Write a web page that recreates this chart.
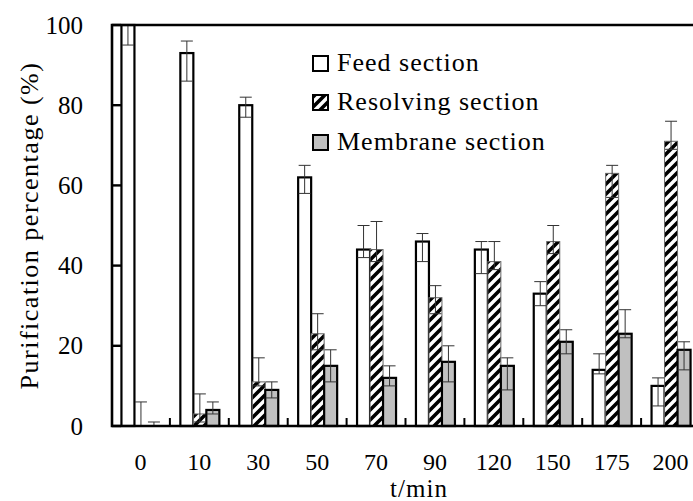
<!DOCTYPE html>
<html>
<head>
<meta charset="utf-8">
<script src="https://cdn.jsdelivr.net/npm/d3@7"></script>
<style>
  html, body { margin: 0; padding: 0; background: #fff; overflow: hidden; }
  svg { display: block; font-family: "Liberation Serif", "DejaVu Serif", serif; }
</style>
</head>
<body>
<div id="container"></div>
<script>
const categories = ["0", "10", "30", "50", "70", "90", "120", "150", "175", "200"];
const feed = [100, 93, 80, 62, 44, 46, 44, 33, 14, 10];
const feedUp = [0, 3, 2, 3, 6, 2, 2, 3, 4, 2];
const feedDown = [5, 7, 3, 4, 2, 5, 6, 3, 1, 5];
const resolving = [0, 3, 11, 23, 44, 32, 41, 46, 63, 71];
const resolvingUp = [6, 5, 6, 5, 7, 3, 5, 4, 2, 5];
const resolvingDown = [0, 2, 1, 4, 3, 4, 2, 3, 6, 2];
const membrane = [0, 4, 9, 15, 12, 16, 15, 21, 23, 19];
const membraneUp = [1, 2, 2, 4, 3, 4, 2, 3, 6, 2];
const membraneDown = [0, 1, 2, 4, 2, 5, 6, 3, 1, 5];
const yTicks = [0, 20, 40, 60, 80, 100];
const seriesNames = ["Feed section", "Resolving section", "Membrane section"];

main();

function main() {
  const width = 693;
  const height = 501;
  const plot = { left: 111, right: 700, top: 25, bottom: 426 };

  const svg = d3
    .select("#container")
    .append("svg")
    .attr("width", width)
    .attr("height", height);

  const defs = svg.append("defs");
  const hatch = defs
    .append("pattern")
    .attr("id", "hatch")
    .attr("patternUnits", "userSpaceOnUse")
    .attr("width", 10)
    .attr("height", 10);
  hatch.append("rect").attr("width", 10).attr("height", 10).attr("fill", "#fff");
  hatch
    .append("path")
    .attr("d", "M0,10 L10,0 M-5,5 L5,-5 M5,15 L15,5")
    .attr("stroke", "#000")
    .attr("stroke-width", 3.6);

  const scaleX = d3
    .scaleBand()
    .domain(categories)
    .range([plot.left, plot.right]);
  const scaleY = d3
    .scaleLinear()
    .domain([0, 100])
    .range([plot.bottom, plot.top]);

  const barW = 13;
  const groupOffset = (scaleX.bandwidth() - 3 * barW) / 2 + 0.5;

  const series = [
    { values: feed, up: feedUp, down: feedDown, fill: "#fff", stroke: "#000", sw: 2.2 },
    { values: resolving, up: resolvingUp, down: resolvingDown, fill: "url(#hatch)", stroke: "#666", sw: 1 },
    { values: membrane, up: membraneUp, down: membraneDown, fill: "#c0c0c0", stroke: "#000", sw: 2.2 },
  ];

  const barsGroup = svg.append("g").classed("bars", true);
  series.forEach((s, si) => {
    barsGroup
      .append("g")
      .selectAll("rect")
      .data(s.values.map((v, i) => ({ cat: categories[i], v: v })))
      .join("rect")
      .filter((d) => d.v > 0)
      .attr("x", (d) => scaleX(d.cat) + groupOffset + si * barW)
      .attr("y", (d) => scaleY(d.v))
      .attr("width", barW)
      .attr("height", (d) => scaleY(0) - scaleY(d.v))
      .attr("fill", s.fill)
      .attr("stroke", s.stroke)
      .attr("stroke-width", s.sw);
  });

  // error bars: asymmetric, cap at both ends
  const errGroup = svg.append("g").classed("errors", true);
  const capW = 12;
  series.forEach((s, si) => {
    s.values.forEach((v, i) => {
      const cx = scaleX(categories[i]) + groupOffset + si * barW + barW / 2;
      const ends = [];
      if (s.up[i] > 0) ends.push(Math.min(100, v + s.up[i]));
      if (s.down[i] > 0) ends.push(Math.max(0, v - s.down[i]));
      ends.forEach((e) => {
        if (e >= 100) return;
        errGroup
          .append("line")
          .attr("x1", cx)
          .attr("x2", cx)
          .attr("y1", scaleY(v))
          .attr("y2", scaleY(e))
          .attr("stroke", "#333")
          .attr("stroke-width", 1);
        errGroup
          .append("line")
          .attr("x1", cx - capW / 2)
          .attr("x2", cx + capW / 2)
          .attr("y1", scaleY(e))
          .attr("y2", scaleY(e))
          .attr("stroke", "#333")
          .attr("stroke-width", 1);
      });
    });
  });

  // frame
  const axisG = svg.append("g").classed("axes", true);
  axisG
    .append("path")
    .attr("d", `M${plot.left + 1},${plot.bottom} V${plot.top} H${plot.right} V${plot.bottom} Z`)
    .attr("fill", "none")
    .attr("stroke", "#000")
    .attr("stroke-width", 2.6);

  // y ticks inward
  axisG
    .selectAll("line.ytick")
    .data(yTicks)
    .join("line")
    .classed("ytick", true)
    .attr("x1", plot.left + 1)
    .attr("x2", plot.left + 10)
    .attr("y1", (d) => scaleY(d))
    .attr("y2", (d) => scaleY(d))
    .attr("stroke", "#000")
    .attr("stroke-width", 2.4);
  axisG
    .selectAll("text.ylabel")
    .data(yTicks)
    .join("text")
    .classed("ylabel", true)
    .attr("x", 83)
    .attr("y", (d) => scaleY(d))
    .attr("dy", "0.34em")
    .attr("text-anchor", "end")
    .attr("font-size", 25)
    .text((d) => d);

  // x ticks between categories, pointing up
  axisG
    .selectAll("line.xtick")
    .data(categories.slice(1))
    .join("line")
    .classed("xtick", true)
    .attr("x1", (d) => scaleX(d))
    .attr("x2", (d) => scaleX(d))
    .attr("y1", plot.bottom)
    .attr("y2", plot.bottom - 8)
    .attr("stroke", "#000")
    .attr("stroke-width", 2);
  axisG
    .selectAll("text.xlabel")
    .data(categories)
    .join("text")
    .classed("xlabel", true)
    .attr("x", (d) => scaleX(d) + scaleX.bandwidth() / 2)
    .attr("y", 470)
    .attr("text-anchor", "middle")
    .attr("font-size", 24)
    .text((d) => d);

  svg
    .append("text")
    .attr("x", 419)
    .attr("y", 497)
    .attr("text-anchor", "middle")
    .attr("font-size", 25)
    .attr("letter-spacing", 1)
    .text("t/min");
  svg
    .append("text")
    .attr("transform", `translate(38, ${(plot.top + plot.bottom) / 2}) rotate(-90)`)
    .attr("text-anchor", "middle")
    .attr("font-size", 26)
    .attr("letter-spacing", 1.5)
    .text("Purification percentage (%)");

  // legend
  const legend = svg.append("g").classed("legend", true);
  const rowsY = [71, 110, 150];
  series.forEach((s, si) => {
    legend
      .append("rect")
      .attr("x", 313)
      .attr("y", rowsY[si] - 15)
      .attr("width", 15)
      .attr("height", 15)
      .attr("fill", s.fill)
      .attr("stroke", "#000")
      .attr("stroke-width", 2);
    legend
      .append("text")
      .attr("x", 337)
      .attr("y", rowsY[si])
      .attr("font-size", 26)
      .attr("letter-spacing", 1)
      .text(seriesNames[si]);
  });
}
</script>
</body>
</html>
